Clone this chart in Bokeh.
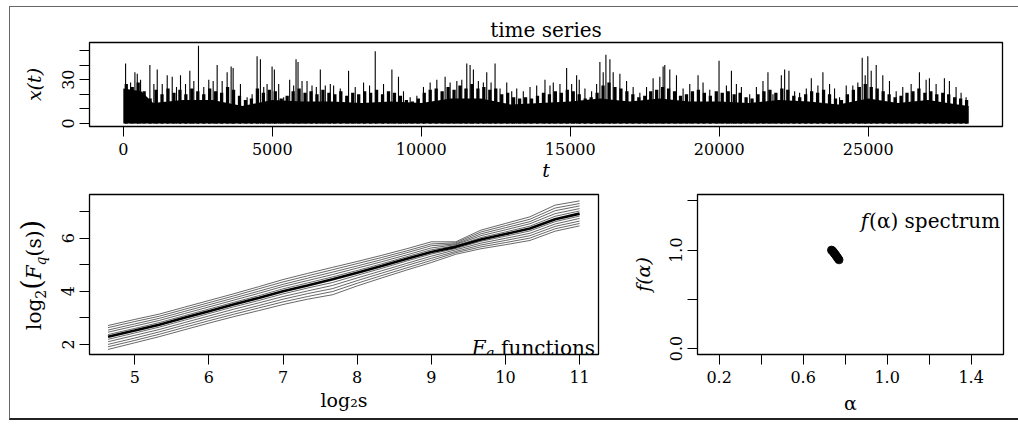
import math
from bokeh.plotting import figure
from bokeh.models import FixedTicker, Label, Range1d, Div
from bokeh.layouts import column, row
from bokeh.embed import file_html
from bokeh.resources import INLINE

FONT = "DejaVu Serif"

# ---------------- time series ----------------
# solid lower body of the series
body_t = [1, 600, 1000, 2000, 3000, 4000, 5000, 6000, 7000, 8000, 9000, 10000, 11000,
          12000, 13000, 14000, 15000, 16000, 17000, 18000, 19000, 20000, 21000, 22000,
          23000, 24000, 25000, 26000, 27000, 28000, 28370]
body_x = [24, 22, 14, 16, 16, 12, 16, 15, 15, 14, 15, 14, 17, 17, 13, 14, 15, 17, 15, 17,
          15, 15, 14, 16, 15, 13, 17, 14, 16, 13, 12]

# dense ragged upper part (local level every 200 samples)
mid_t = list(range(100, 28400, 200))
mid_x = [27, 25, 28, 22, 17, 23, 20, 24, 21, 23, 20, 24, 22, 20, 24, 22, 21, 25, 23, 19,
         16, 17, 24, 21, 23, 22, 17, 19, 22, 24, 21, 22, 20, 23, 21, 20, 22, 19, 21, 20,
         22, 21, 23, 20, 22, 21, 19, 16, 15, 17, 21, 23, 24, 22, 25, 23, 26, 24, 27, 24,
         25, 23, 24, 20, 21, 18, 17, 18, 17, 19, 21, 20, 22, 21, 23, 22, 20, 17, 18, 21,
         26, 28, 25, 24, 22, 20, 18, 19, 22, 23, 25, 24, 22, 19, 20, 22, 23, 21, 19, 22,
         21, 22, 20, 21, 18, 17, 20, 22, 23, 21, 24, 23, 19, 18, 20, 22, 21, 23, 20, 17,
         16, 20, 23, 25, 27, 25, 24, 22, 20, 18, 19, 21, 22, 24, 21, 22, 20, 21, 20, 18,
         17, 16]

# individual tall spikes
spike_t = [77, 245, 390, 469, 580, 892, 1026, 1139, 1307, 1474, 1642, 1786, 1920, 2088, 2233,
           2367, 2523, 2701, 2869, 3016, 3150, 3318, 3485, 3619, 3686, 3931, 4155, 4323, 4490,
           4601, 4713, 4825, 4993, 5070, 5215, 5382, 5583, 5717, 5797, 5864, 5998, 6166, 6333,
           6478, 6612, 6779, 6947, 7058, 7282, 7560, 7784, 8063, 8264, 8455, 8733, 9014, 9235,
           9403, 9627, 9852, 10073, 10298, 10522, 10800, 10968, 11193, 11360, 11527, 11638,
           11749, 11916, 12084, 12197, 12342, 12476, 12643, 12868, 13035, 13203, 13424, 13649,
           13873, 14151, 14319, 14430, 14654, 14878, 15046, 15213, 15301, 15492, 15716, 15884,
           15994, 16105, 16196, 16330, 16440, 16665, 16889, 17110, 17335, 17559, 17780, 18005,
           18116, 18172, 18340, 18564, 18786, 19010, 19288, 19456, 19681, 19992, 20240, 20408,
           20575, 20743, 21021, 21246, 21467, 21634, 21802, 22083, 22194, 22338, 22529, 22696,
           22921, 23089, 23310, 23478, 23702, 23869, 24037, 24261, 24482, 24650, 24797, 24897,
           24985, 25099, 25267, 25488, 25712, 25937, 26158, 26439, 26717, 26942, 27052, 27277,
           27555, 27723, 27947, 28115, 28283]
spike_x = [41, 28, 35, 34, 30, 40, 27, 37, 27, 33, 32, 25, 33, 27, 36,
           29, 53.3, 25, 30, 29, 40, 29, 35, 39, 38, 27, 18, 20, 46,
           44, 25, 27, 39, 37, 27, 18, 30, 26, 44, 42, 29, 29, 26,
           25, 37, 26, 27, 26, 24, 36, 25, 28, 26, 49.5, 27, 37, 32,
           22, 18, 19, 25, 28, 30, 32, 28, 29, 30, 41, 40,
           37, 29, 28, 35, 28, 41, 24, 28, 22, 24, 22, 25,
           26, 30, 26, 28, 27, 38, 27, 33, 30, 24, 22, 27,
           42, 35, 47, 44, 35, 34, 29, 25, 21, 25, 31, 32,
           39, 40, 37, 33, 24, 27, 33, 28, 23, 43, 26, 36,
           27, 25, 20, 25, 29, 35, 20, 33, 37, 36, 22, 21,
           24, 31, 26, 35, 27, 24, 18, 26, 26, 28, 45, 33,
           46, 36, 40, 33, 29, 22, 25, 27, 35, 30, 31, 27,
           31, 29, 25, 21, 18]
ts_xticks = [0, 5000, 10000, 15000, 20000, 25000]
ts_yticks = [0, 10, 20, 30, 40, 50]

# ---------------- Fq functions ----------------
log2_s = [4.64, 5.0, 5.33, 5.67, 6.0, 6.33, 6.67, 7.0, 7.33, 7.67, 8.0, 8.33, 8.67, 9.0,
          9.33, 9.67, 10.0, 10.33, 10.67, 11.0]
fq_a5 = [2.71, 2.94, 3.14, 3.40, 3.65, 3.90, 4.17, 4.44, 4.67, 4.90, 5.12, 5.35, 5.60, 5.86, 5.86, 6.30, 6.55, 6.80, 7.24, 7.40]
fq_a4 = [2.63, 2.86, 3.06, 3.32, 3.57, 3.82, 4.09, 4.35, 4.58, 4.81, 5.04, 5.27, 5.52, 5.78, 5.82, 6.23, 6.47, 6.71, 7.13, 7.30]
fq_a3 = [2.54, 2.77, 2.98, 3.24, 3.49, 3.74, 4.00, 4.26, 4.49, 4.72, 4.95, 5.19, 5.45, 5.71, 5.78, 6.16, 6.39, 6.62, 7.03, 7.21]
fq_a2 = [2.46, 2.69, 2.90, 3.16, 3.41, 3.66, 3.92, 4.18, 4.40, 4.63, 4.87, 5.11, 5.37, 5.63, 5.75, 6.09, 6.31, 6.54, 6.92, 7.11]
fq_a1 = [2.37, 2.60, 2.82, 3.08, 3.33, 3.58, 3.83, 4.09, 4.31, 4.54, 4.78, 5.03, 5.30, 5.56, 5.71, 6.02, 6.23, 6.45, 6.82, 7.02]
fq_q2 = [2.29, 2.52, 2.74, 3.00, 3.25, 3.50, 3.75, 4.00, 4.22, 4.45, 4.70, 4.95, 5.22, 5.48, 5.67, 5.95, 6.15, 6.36, 6.71, 6.92]
fq_b1 = [2.19, 2.43, 2.65, 2.91, 3.16, 3.41, 3.65, 3.90, 4.12, 4.33, 4.60, 4.86, 5.14, 5.40, 5.61, 5.88, 6.07, 6.27, 6.62, 6.83]
fq_b2 = [2.10, 2.34, 2.56, 2.82, 3.07, 3.32, 3.56, 3.80, 4.01, 4.22, 4.50, 4.77, 5.05, 5.32, 5.56, 5.81, 5.99, 6.18, 6.53, 6.74]
fq_b3 = [2.00, 2.24, 2.47, 2.73, 2.98, 3.22, 3.46, 3.70, 3.91, 4.10, 4.40, 4.68, 4.97, 5.24, 5.50, 5.74, 5.91, 6.09, 6.44, 6.64]
fq_b4 = [1.91, 2.15, 2.38, 2.64, 2.89, 3.13, 3.37, 3.60, 3.80, 3.99, 4.30, 4.59, 4.88, 5.16, 5.45, 5.67, 5.83, 6.00, 6.35, 6.55]
fq_b5 = [1.81, 2.06, 2.29, 2.55, 2.80, 3.04, 3.27, 3.50, 3.70, 3.87, 4.20, 4.50, 4.80, 5.08, 5.39, 5.60, 5.75, 5.91, 6.26, 6.46]
fq_thin = [fq_a5, fq_a4, fq_a3, fq_a2, fq_a1, fq_b1, fq_b2, fq_b3, fq_b4, fq_b5]
fq_xticks = [5, 6, 7, 8, 9, 10, 11]
fq_yticks = [2, 3, 4, 5, 6, 7]

# ---------------- f(alpha) spectrum ----------------
alpha = [0.735, 0.739, 0.743, 0.747, 0.751, 0.755, 0.759, 0.763, 0.767, 0.771]
f_alpha = [1.0, 0.993, 0.983, 0.972, 0.961, 0.949, 0.937, 0.925, 0.913, 0.901]
sp_xticks = [0.2, 0.4, 0.6, 0.8, 1, 1.2, 1.4]
sp_yticks = [0, 0.5, 1, 1.5]

# approximate advance widths (em) of the font, for composing mixed-style labels
WID = {"l": .32, "o": .60, "g": .64, "s": .51, "F": .67, "q": .64, "(": .39, ")": .39,
       "f": .37, "α": .66, " ": .32, "p": .64, "e": .59, "c": .55, "t": .40, "r": .48,
       "u": .64, "m": .95, "n": .64, "i": .32, "2": .64, "x": .56}


def tw(s, size):
    return sum(WID.get(ch, .6) for ch in s) * size


def compose_label(p, parts, x, y, align="left"):
    """parts: (text, size, italic, baseline shift, gap before)."""
    total = sum(tw(t, sz) + g for t, sz, it, dy, g in parts)
    pos = x - total / 2 if align == "center" else (x - total if align == "right" else x)
    for t, sz, it, dy, g in parts:
        pos += g
        p.add_layout(Label(x=pos, y=y + dy, x_units="screen", y_units="screen", text=t,
                           text_font=FONT, text_font_size=f"{sz}px",
                           text_font_style="italic" if it else "normal",
                           text_color="black", text_align="left",
                           text_baseline="alphabetic"))
        pos += tw(t, sz)


def base_style(p):
    p.xgrid.visible = False
    p.ygrid.visible = False
    p.outline_line_color = "black"
    p.outline_line_width = 1.3
    p.background_fill_color = "white"
    p.border_fill_color = "white"
    for ax in list(p.xaxis) + list(p.yaxis):
        ax.axis_line_color = None
        ax.major_tick_in = 0
        ax.major_tick_out = 10
        ax.major_tick_line_color = "black"
        ax.major_tick_line_width = 1
        ax.minor_tick_line_color = None
        ax.major_label_text_font = FONT
        ax.major_label_text_font_size = "16px"
        ax.major_label_text_color = "black"
        ax.axis_label_text_font = FONT
        ax.axis_label_text_font_size = "19px"
        ax.axis_label_text_color = "black"
        ax.axis_label_text_font_style = "normal"
    for ax in p.yaxis:
        ax.major_label_orientation = "vertical"
        ax.major_label_standoff = 5
    for ax in p.xaxis:
        ax.major_label_standoff = 6


# ---------- top: time series ----------
top = figure(width=1008, height=179, output_backend="svg", toolbar_location=None,
             x_range=Range1d(-1134, 29505), y_range=Range1d(-2.13, 55.45),
             min_border_left=79, min_border_right=16, min_border_top=35, min_border_bottom=60,
             title="time series")
base_style(top)
top.title.align = "center"
top.title.text_font = FONT
top.title.text_font_size = "20px"
top.title.text_font_style = "normal"
top.title.text_color = "black"
top.title.standoff = 2
top.varea(x=body_t, y1=0, y2=body_x, fill_color="black")
top.vbar(x=mid_t, top=mid_x, bottom=0, width=110, fill_color="black", line_color=None)
top.segment(x0=spike_t, y0=[0] * len(spike_t), x1=spike_t, y1=spike_x,
            line_color="black", line_width=1.1)
top.xaxis.ticker = FixedTicker(ticks=ts_xticks)
top.xaxis.major_label_overrides = {v: str(v) for v in ts_xticks}
top.yaxis.ticker = FixedTicker(ticks=ts_yticks)
top.yaxis.major_label_overrides = {v: (str(v) if v in (0, 30) else "") for v in ts_yticks}
top.xaxis.axis_label = "t"
top.xaxis.axis_label_text_font_style = "italic"
top.xaxis.axis_label_standoff = 1
top.yaxis.axis_label = "x(t)"
top.yaxis.axis_label_text_font_style = "italic"
top.yaxis.axis_label_standoff = 15

# ---------- bottom-left: y-label (HTML text, rotated) + Fq functions ----------
ylab_html = (
    '<div style="position:relative;width:43px;height:232px;">'
    '<span style="position:absolute;left:23px;top:89px;white-space:nowrap;'
    'transform:translate(-50%,-50%) rotate(-90deg);font-family:\'DejaVu Serif\';'
    'font-size:20px;color:black;line-height:1;">'
    'log<sub style="font-size:14px;">2</sub><span style="font-size:27px;">(</span>'
    '<i>F</i><sub style="font-size:14px;"><i>q</i></sub>(s)'
    '<span style="font-size:27px;">)</span></span></div>'
)
strip = Div(text=ylab_html, width=43, height=232, margin=0)

bl = figure(width=567, height=232, output_backend="svg", toolbar_location=None,
            x_range=Range1d(4.39, 11.255), y_range=Range1d(1.62, 7.64),
            min_border_left=36, min_border_right=22, min_border_top=8, min_border_bottom=64)
base_style(bl)
for ln in fq_thin:
    bl.line(log2_s, ln, line_color="black", line_width=0.6)
bl.line(log2_s, fq_q2, line_color="black", line_width=2.6)
bl.xaxis.ticker = FixedTicker(ticks=fq_xticks)
bl.xaxis.major_label_overrides = {v: str(v) for v in fq_xticks}
bl.yaxis.ticker = FixedTicker(ticks=fq_yticks)
bl.yaxis.major_label_overrides = {v: (str(v) if v in (2, 4, 6) else "") for v in fq_yticks}
bl.xaxis.axis_label = "log₂s"
bl.xaxis.axis_label_standoff = 3
compose_label(bl, [("F", 20, True, 0, 0), ("q", 14, True, -5, 0), ("functions", 20, False, 0, 7)],
              505, 7, align="right")

# ---------- bottom-right: f(alpha) spectrum ----------
br = figure(width=398, height=232, output_backend="svg", toolbar_location=None,
            x_range=Range1d(0.097, 1.554), y_range=Range1d(-0.061, 1.565),
            min_border_left=77, min_border_right=15, min_border_top=8, min_border_bottom=64)
base_style(br)
br.scatter(alpha, f_alpha, size=8, fill_color="black", line_color="black", alpha=0.85)
br.xaxis.ticker = FixedTicker(ticks=sp_xticks)
br.xaxis.major_label_overrides = {0.2: "0.2", 0.4: "", 0.6: "0.6", 0.8: "", 1: "1.0", 1.2: "", 1.4: "1.4"}
br.yaxis.ticker = FixedTicker(ticks=sp_yticks)
br.yaxis.major_label_overrides = {0: "0.0", 0.5: "", 1: "1.0", 1.5: ""}
br.xaxis.axis_label = "α"
br.xaxis.axis_label_standoff = 6
br.yaxis.axis_label = "f(α)"
br.yaxis.axis_label_text_font_style = "italic"
br.yaxis.axis_label_standoff = 14
compose_label(br, [("f", 20, True, 0, 0), ("(α) spectrum", 20, False, 0, 1)], 302, 134, align="right")

layout = column(top, row(strip, bl, br), styles={
    "margin-left": "9px", "margin-top": "6px",
    "border-left": "1px solid #666", "border-top": "1px solid #666",
    "border-bottom": "2px solid #222"})

open("out.html", "w").write(file_html(layout, INLINE))
